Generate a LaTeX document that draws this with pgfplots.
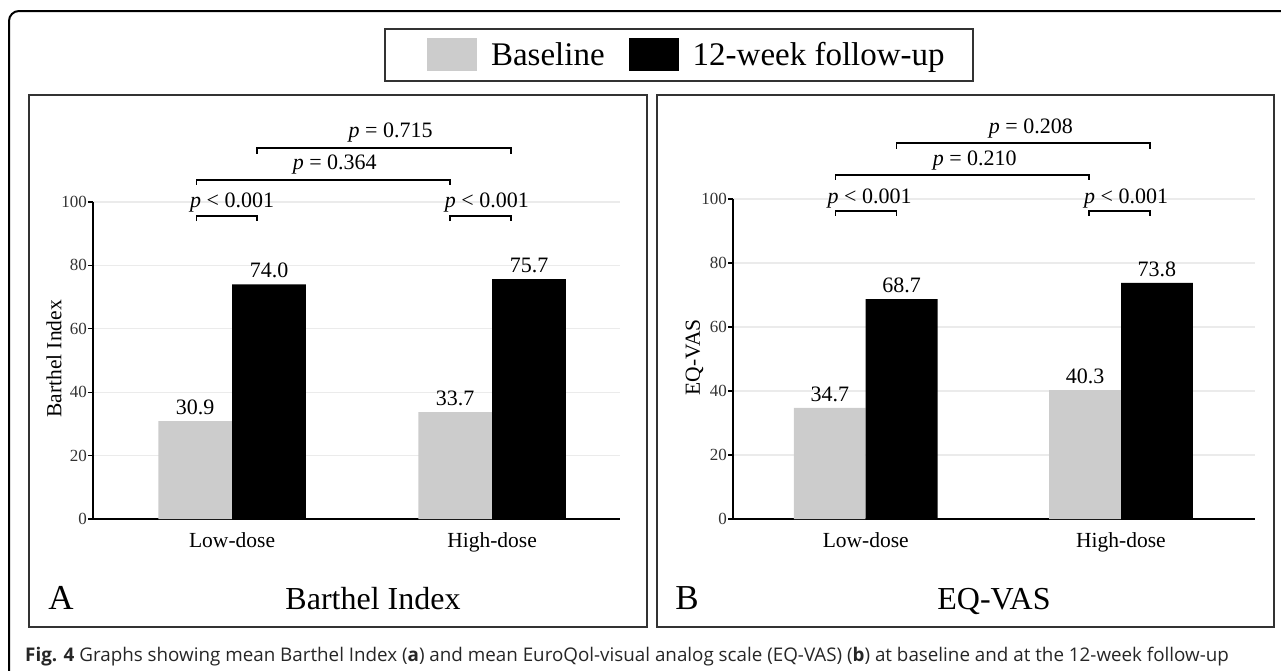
\documentclass[border=0pt]{standalone}
\usepackage{fontspec}
\setmainfont{Liberation Serif}
\newfontfamily\capfont{Open Sans}
\usepackage{pgfplots}
\pgfplotsset{compat=1.18}

\definecolor{basegray}{HTML}{CCCCCC}
\definecolor{gridgray}{HTML}{EBEBEB}
\newcommand{\fs}[1]{\fontsize{#1}{#1}\selectfont}

\pgfplotsset{
  panel/.style={
    scale only axis, anchor=south west,
    ybar, ymin=0, ymax=100, ytick={0,20,...,100},
    enlargelimits=false, clip=false,
    axis x line*=bottom, axis y line*=left,
    x axis line style={-, line width=1.5pt},
    y axis line style={-, line width=1.5pt},
    xtick={0,1}, xticklabels={Low-dose,High-dose},
    xtick style={draw=none},
    ytick style={line width=1.2pt, black},
    tick align=outside, major tick length=5pt,
    ymajorgrids, grid style={gridgray, line width=1.2pt},
    /pgf/number format/assume math mode=true,
    yticklabel style={font=\fs{17}, text=black!80, inner sep=1pt},
    xticklabel style={font=\fs{21.5}, inner sep=0pt, yshift=-8pt},
    ylabel style={font=\fs{21.5}, at={(axis description cs:-0.074,0.505)}, anchor=center},
    nodes near coords, point meta=explicit symbolic,
    nodes near coords style={font=\fs{22}, anchor=south, inner sep=0pt, yshift=6pt},
  },
  swatch/.style={legend image code/.code={
    \path[##1, draw=none] (0pt,-16.5pt) rectangle (50pt,16.5pt);
    \path (64pt,0pt);}},
}
\tikzset{
  brk/.style={line width=1.4pt},
  plab/.style={font=\fs{22}},
}

\begin{document}
\begin{tikzpicture}
\useasboundingbox (0pt,0pt) rectangle (1281pt,-670pt);

% outer figure frame
\draw[line width=2pt, rounded corners=10pt] (1285pt,-11pt) -- (9pt,-11pt) -- (9pt,-675pt);
% panel frames and legend frame
\draw[line width=1.3pt, black!80] (29pt,-95pt) rectangle (647pt,-627pt);
\draw[line width=1.3pt, black!80] (657pt,-95pt) rectangle (1274pt,-627pt);
\draw[line width=1.3pt, black!80] (385pt,-29pt) rectangle (973pt,-81pt);

% panel A
\begin{axis}[panel, at={(93pt,-519pt)}, width=527pt, height=317pt,
    xmin=-0.535, xmax=1.492, bar width=0.284,
    ylabel={Barthel Index},
    legend style={draw=none, fill=none, at={(axis description cs:1.125,1.464)},
      anchor=center, legend columns=2, font=\fs{33}, inner sep=0pt,
      nodes={inner sep=0pt},
      /tikz/every even column/.append style={column sep=24pt}}]
\addplot[fill=basegray, draw=none, bar shift=-0.142, swatch]
  coordinates {(0,30.9) [30.9] (1,33.7) [33.7]};
\addlegendentry{Baseline}
\addplot[fill=black, draw=none, bar shift=0.142, swatch]
  coordinates {(0,74.0) [74.0] (1,75.7) [75.7]};
\addlegendentry{12-week follow-up}

\draw[brk] (axis cs:-0.138,94.0) -- (axis cs:-0.138,95.6) -- (axis cs:0.096,95.6) -- (axis cs:0.096,94.0);
\draw[brk] (axis cs:0.838,94.0) -- (axis cs:0.838,95.6) -- (axis cs:1.073,95.6) -- (axis cs:1.073,94.0);
\draw[brk] (axis cs:-0.138,105.4) -- (axis cs:-0.138,107.0) -- (axis cs:0.838,107.0) -- (axis cs:0.838,105.4);
\draw[brk] (axis cs:0.096,115.2) -- (axis cs:0.096,117.0) -- (axis cs:1.073,117.0) -- (axis cs:1.073,115.2);
\node[plab] at (axis cs:0.0,99.8) {\textit{p} < 0.001};
\node[plab] at (axis cs:0.98,99.8) {\textit{p} < 0.001};
\node[plab] at (axis cs:0.395,111.8) {\textit{p} = 0.364};
\node[plab] at (axis cs:0.61,121.9) {\textit{p} = 0.715};
\end{axis}

% panel B
\begin{axis}[panel, at={(733pt,-519pt)}, width=522pt, height=320pt,
    xmin=-0.52, xmax=1.525, bar width=0.282,
    ylabel={EQ-VAS}]
\addplot[fill=basegray, draw=none, bar shift=-0.141]
  coordinates {(0,34.7) [34.7] (1,40.3) [40.3]};
\addplot[fill=black, draw=none, bar shift=0.141]
  coordinates {(0,68.7) [68.7] (1,73.8) [73.8]};

\draw[brk] (axis cs:-0.118,94.7) -- (axis cs:-0.118,96.25) -- (axis cs:0.12,96.25) -- (axis cs:0.12,94.7);
\draw[brk] (axis cs:0.875,94.7) -- (axis cs:0.875,96.25) -- (axis cs:1.114,96.25) -- (axis cs:1.114,94.7);
\draw[brk] (axis cs:-0.118,106.0) -- (axis cs:-0.118,107.5) -- (axis cs:0.875,107.5) -- (axis cs:0.875,106.0);
\draw[brk] (axis cs:0.12,115.7) -- (axis cs:0.12,117.5) -- (axis cs:1.114,117.5) -- (axis cs:1.114,115.7);
\node[plab] at (axis cs:0.015,100.2) {\textit{p} < 0.001};
\node[plab] at (axis cs:1.02,100.2) {\textit{p} < 0.001};
\node[plab] at (axis cs:0.427,112.1) {\textit{p} = 0.210};
\node[plab] at (axis cs:0.647,122.1) {\textit{p} = 0.208};
\end{axis}

% panel letters and titles
\node[anchor=base, font=\fs{35}] at (61pt,-609pt) {A};
\node[anchor=base, font=\fs{32}] at (373pt,-609pt) {Barthel Index};
\node[anchor=base, font=\fs{35}] at (687pt,-609pt) {B};
\node[anchor=base, font=\fs{32}] at (994pt,-609pt) {EQ-VAS};

% caption
\node[anchor=base west, inner sep=0pt, text=black!85, font=\capfont\fs{18.8}] at (25pt,-661pt)
  {\textbf{Fig. 4} Graphs showing mean Barthel Index (\textbf{a}) and mean EuroQol-visual analog scale (EQ-VAS) (\textbf{b}) at baseline and at the 12-week follow-up};
\end{tikzpicture}
\end{document}
